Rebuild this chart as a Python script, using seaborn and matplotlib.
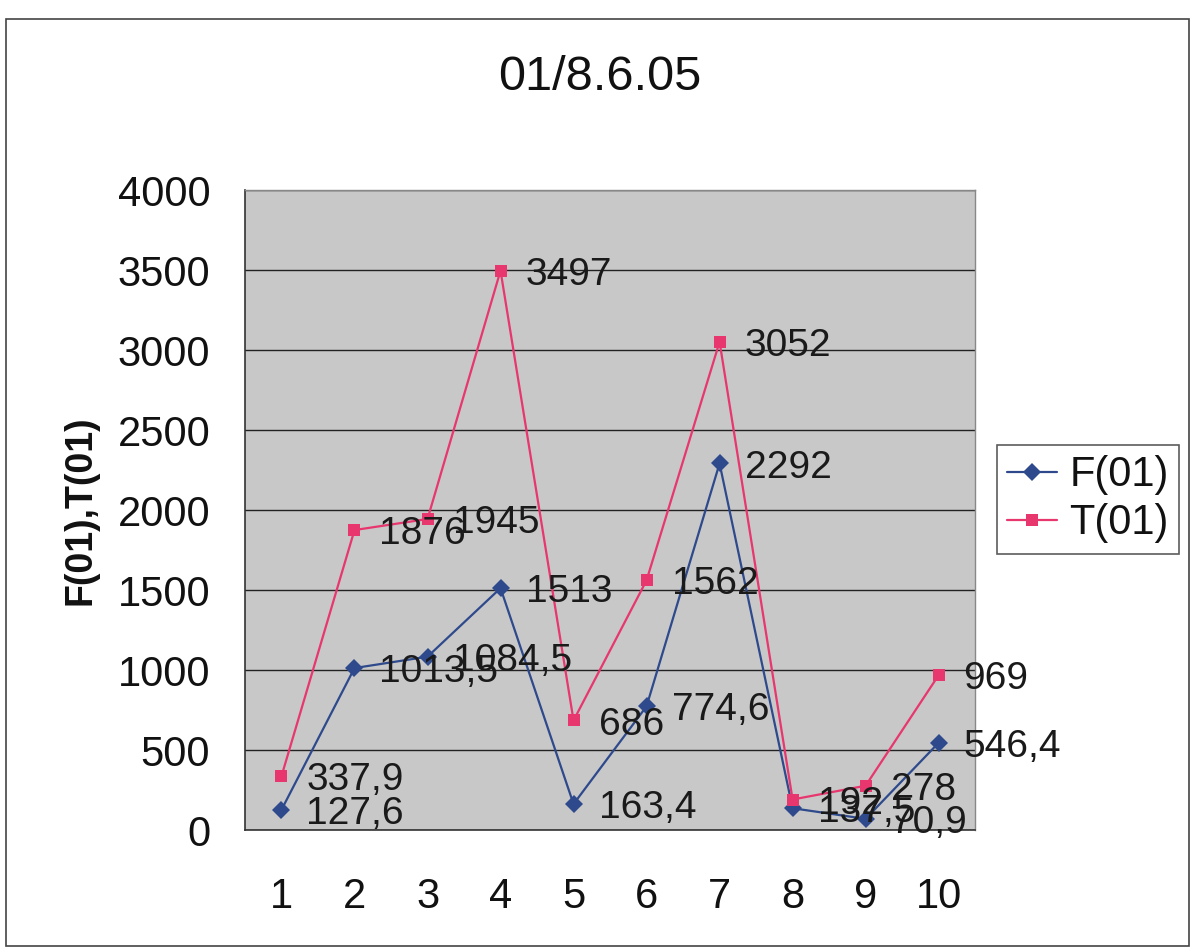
import matplotlib
matplotlib.use("Agg")
import matplotlib.pyplot as plt
from matplotlib.lines import Line2D
from matplotlib.patches import Rectangle
import seaborn as sns
import pandas as pd

# Series values for each sample point
points = [1, 2, 3, 4, 5, 6, 7, 8, 9, 10]
f01 = [127.6, 1013.5, 1084.5, 1513, 163.4, 774.6, 2292, 137.5, 70.9, 546.4]
t01 = [337.9, 1876, 1945, 3497, 686, 1562, 3052, 192, 278, 969]
series_names = ["F(01)", "T(01)"]
y_ticks = [0, 500, 1000, 1500, 2000, 2500, 3000, 3500, 4000]

df = pd.DataFrame({
    "x": points * 2,
    "value": f01 + t01,
    "series": [series_names[0]] * len(points) + [series_names[1]] * len(points),
})

sns.set_style("white")
plt.rcParams["font.family"] = ["Liberation Sans", "DejaVu Sans"]

navy = "#2e4a8c"
pink = "#e8366e"
ink = "#111111"

fig = plt.figure(figsize=(11.95, 9.51), dpi=100)
ax = fig.add_axes([0.205, 0.127, 0.611, 0.673])
ax.set_facecolor("#c8c8c8")

sns.lineplot(data=df, x="x", y="value", hue="series", style="series",
             palette={series_names[0]: navy, series_names[1]: pink},
             markers={series_names[0]: "D", series_names[1]: "s"},
             dashes=False, markersize=9, linewidth=1.6,
             markeredgewidth=0, legend=False, ax=ax, zorder=3)

def fmt(v):
    return f"{v:g}".replace(".", ",")

for ys in (f01, t01):
    for x, y in zip(points, ys):
        ax.annotate(fmt(y), (x, y), xytext=(18, -3), textcoords="offset points",
                    ha="left", va="center", fontsize=28, color="#1a1a1a",
                    zorder=4, annotation_clip=False)

ax.set_xlim(0.5, 10.5)
ax.set_ylim(0, 4000)
ax.set_yticks(y_ticks)
ax.set_yticklabels([str(t) for t in y_ticks], fontsize=30, color=ink)
ax.yaxis.grid(True, color="#222222", linewidth=1.0)
ax.set_axisbelow(True)

# category axis: ticks at category boundaries, labels at centres
ax.set_xticks([p + 0.5 for p in points[:-1]] + [0.5, 10.5])
ax.set_xticklabels([])
ax.set_xticks(points, minor=True)
ax.set_xticklabels([str(p) for p in points], minor=True, fontsize=30, color=ink)
ax.tick_params(axis="x", which="major", direction="out", length=11, width=1, color="#333333")
ax.tick_params(axis="x", which="minor", length=0, pad=34)
ax.tick_params(axis="y", direction="out", length=11, width=1, color="#333333", pad=14)

for side in ("left", "bottom"):
    ax.spines[side].set_color("#333333")
    ax.spines[side].set_linewidth(1.2)
for side in ("top", "right"):
    ax.spines[side].set_color("#888888")
    ax.spines[side].set_linewidth(1.0)

ax.set_xlabel("")
ax.set_ylabel("F(01),T(01)", fontsize=27, fontweight="bold", color=ink, labelpad=14)

fig.text(0.502, 0.918, "01/8.6.05", ha="center", va="center", fontsize=35, color=ink)

handles = [
    Line2D([], [], color=navy, marker="D", markersize=9, markeredgewidth=0, linewidth=1.6),
    Line2D([], [], color=pink, marker="s", markersize=9, markeredgewidth=0, linewidth=1.6),
]
leg = fig.legend(handles, series_names, loc="center left",
                 bbox_to_anchor=(0.834, 0.475), fontsize=30, frameon=True,
                 fancybox=False, edgecolor="#333333", handlelength=1.2,
                 handletextpad=0.3, borderpad=0.25, labelspacing=0.2,
                 borderaxespad=0)
for t in leg.get_texts():
    t.set_color(ink)
leg.get_frame().set_linewidth(1.2)

# outer chart border
fig.add_artist(Rectangle((0.005, 0.005), 0.99, 0.975, transform=fig.transFigure,
                         fill=False, edgecolor="#444444", linewidth=1.2))

fig.savefig("out.png", dpi=100, facecolor="white")
